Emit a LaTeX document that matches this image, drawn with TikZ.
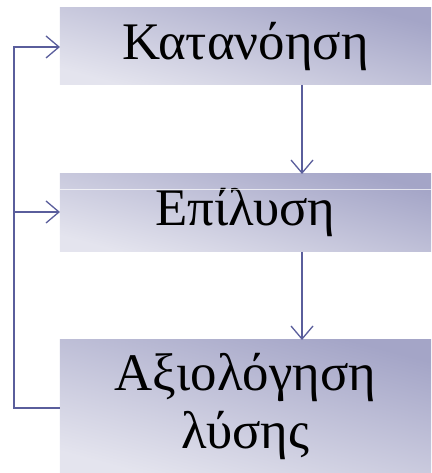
\documentclass[tikz,border=0pt]{standalone}
\usepackage{fontspec}
\setmainfont{Liberation Serif}
\usetikzlibrary{arrows.meta}
\definecolor{boxdark}{HTML}{A4A5C7}
\definecolor{boxlight}{HTML}{E4E4EE}
\definecolor{linkcol}{HTML}{5A5E9C}
\tikzset{
  stagebox/.style={rectangle, inner sep=0pt, outer sep=0pt, draw=none,
    minimum width=371bp, top color=boxdark, bottom color=boxlight,
    shading angle=-15, align=center, font=\fontsize{53}{58}\selectfont,
    text=black},
  link/.style={draw=linkcol, line width=1.4bp},
  tip/.style={-{Straight Barb[length=13bp,width=22bp,line width=1.3bp]}}
}
\begin{document}
\begin{tikzpicture}[x=1bp,y=1bp]
  \useasboundingbox (0,0) rectangle (431,473);
  % the three stages
  \node[stagebox, minimum height=77bp] (box1) at (245.5,426.5) {Κατανόηση};
  \node[stagebox, minimum height=78bp] (box2) at (245.5,260) {Επίλυση};
  \node[stagebox, minimum height=133bp] (box3) at (245.5,66.5) {Αξιολόγηση\\λύσης};
  % faint highlight line inside the middle box
  \coordinate (hl) at (0,284);
  \draw[white, opacity=0.7, line width=0.8bp] (box2.west |- hl) -- (box2.east |- hl);
  % downward flow
  \coordinate (colx) at (302,0);
  \draw[link, tip] (box1.south -| colx) -- (box2.north -| colx);
  \draw[link, tip] (box2.south -| colx) -- (box3.north -| colx);
  % feedback loop on the left
  \coordinate (loopB) at (14,65);
  \coordinate (loopT) at (14,426);
  \coordinate (loopM) at (14,261);
  \draw[link, tip] (box3.west |- loopB) -- (loopB) -- (loopT) -- (box1.west |- loopT);
  \draw[link, tip] (loopM) -- (box2.west |- loopM);
\end{tikzpicture}
\end{document}
